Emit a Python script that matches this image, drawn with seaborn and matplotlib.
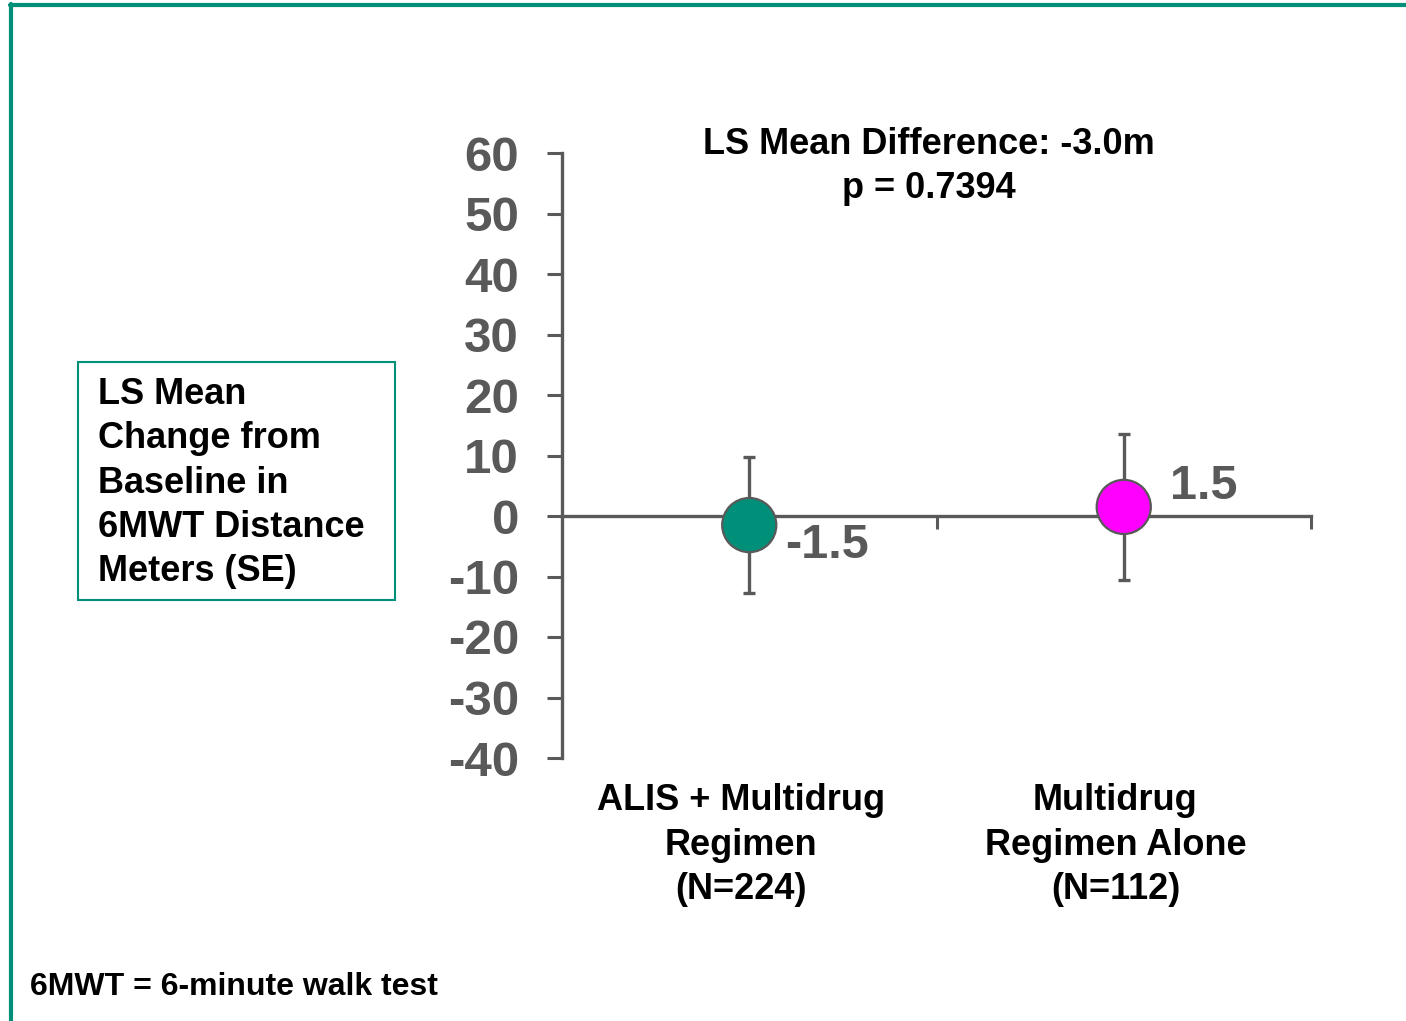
import matplotlib
matplotlib.use("Agg")
import matplotlib.pyplot as plt
from matplotlib.lines import Line2D
from matplotlib.patches import Rectangle
from matplotlib.transforms import blended_transform_factory
import seaborn as sns
import pandas as pd

# ---- data ----
groups = ["ALIS + Multidrug\nRegimen\n(N=224)", "Multidrug\nRegimen Alone\n(N=112)"]
ls_means = [-1.5, 1.5]
se_values = [11.2, 12.1]
point_labels = ["-1.5", "1.5"]
point_colors = ["#00907A", "#FF00FF"]
yticks = [-40, -30, -20, -10, 0, 10, 20, 30, 40, 50, 60]
annotation_lines = ["LS Mean Difference: -3.0m", "p = 0.7394"]
ylabel_text = "LS Mean\nChange from\nBaseline in\n6MWT Distance\nMeters (SE)"
footnote = "6MWT = 6-minute walk test"

df = pd.DataFrame({"group": groups, "mean": ls_means, "se": se_values})

sns.set_style("white")
plt.rcParams["font.family"] = ["Liberation Sans", "DejaVu Sans"]
plt.rcParams["font.weight"] = "bold"

GRAY = "#595959"
TEAL = "#00907A"
W, H = 1406, 1021
fig = plt.figure(figsize=(W / 100, H / 100), dpi=100)
ax = fig.add_axes([562 / W, 1 - 758 / H, (1311 - 562) / W, (758 - 153) / H])

xpos = list(range(len(groups)))
ax.errorbar(xpos, df["mean"], yerr=df["se"], fmt="none", ecolor=GRAY,
            elinewidth=2.4, capsize=4.5, capthick=2.4, zorder=2)
sns.scatterplot(x=xpos, y=df["mean"], hue=df["group"], palette=point_colors,
                s=1520, edgecolor=GRAY, linewidth=1.6, legend=False, ax=ax, zorder=3)

ax.set_xlim(-0.5, 1.5)
ax.set_ylim(-40, 60)
ax.set_yticks(yticks)
ax.set_yticklabels([str(t) for t in yticks], fontsize=35.5, fontweight="bold", color=GRAY)
ax.tick_params(axis="y", direction="out", length=11, width=2.2, color=GRAY, pad=20, left=True)

ax.spines["top"].set_visible(False)
ax.spines["right"].set_visible(False)
ax.spines["left"].set_color(GRAY)
ax.spines["left"].set_linewidth(2.4)
ax.spines["bottom"].set_position(("data", 0))
ax.spines["bottom"].set_color(GRAY)
ax.spines["bottom"].set_linewidth(2.4)
ax.set_xticks([0.5, 1.5])
ax.set_xticklabels(["", ""])
ax.tick_params(axis="x", direction="out", length=9, width=2.2, color=GRAY, bottom=True)
ax.set_xlabel("")
ax.set_ylabel("")

# data labels
offsets = [(26, -15), (33, 15)]
for x, m, lab, off in zip(xpos, ls_means, point_labels, offsets):
    ax.annotate(lab, (x, m), xytext=off, textcoords="offset points",
                ha="left", va="center", fontsize=35, fontweight="bold", color=GRAY)

# category labels
blend = blended_transform_factory(ax.transData, fig.transFigure)
for x, g in zip(xpos, groups):
    ax.annotate(g, (x, 1 - 845 / H), xycoords=blend, xytext=(-6, 0),
                textcoords="offset points", ha="center", va="center", fontsize=26,
                fontweight="bold", color="black", linespacing=1.34,
                annotation_clip=False)

# annotation at top
fig.text(929 / W, 1 - 145 / H, annotation_lines[0], ha="center", va="center",
         fontsize=26, fontweight="bold", color="black")
fig.text(929 / W, 1 - 188 / H, annotation_lines[1], ha="center", va="center",
         fontsize=26, fontweight="bold", color="black")

# y label box
fig.add_artist(Rectangle((78 / W, 1 - 600 / H), (395 - 78) / W, (600 - 362) / H,
                         transform=fig.transFigure, fill=False, edgecolor=TEAL, linewidth=1.5))
fig.text(98 / W, 1 - 483 / H, ylabel_text, ha="left", va="center", fontsize=26,
         fontweight="bold", color="black", linespacing=1.34)

# footnote
fig.text(30 / W, 1 - 987 / H, footnote, ha="left", va="center", fontsize=23,
         fontweight="bold", color="black")

# border lines
fig.add_artist(Line2D([10 / W, 1.0], [1 - 5.5 / H, 1 - 5.5 / H], transform=fig.transFigure,
                      color=TEAL, linewidth=3))
fig.add_artist(Line2D([11.5 / W, 11.5 / W], [0, 1 - 4 / H], transform=fig.transFigure,
                      color=TEAL, linewidth=3))

fig.savefig("out.png", dpi=100)
